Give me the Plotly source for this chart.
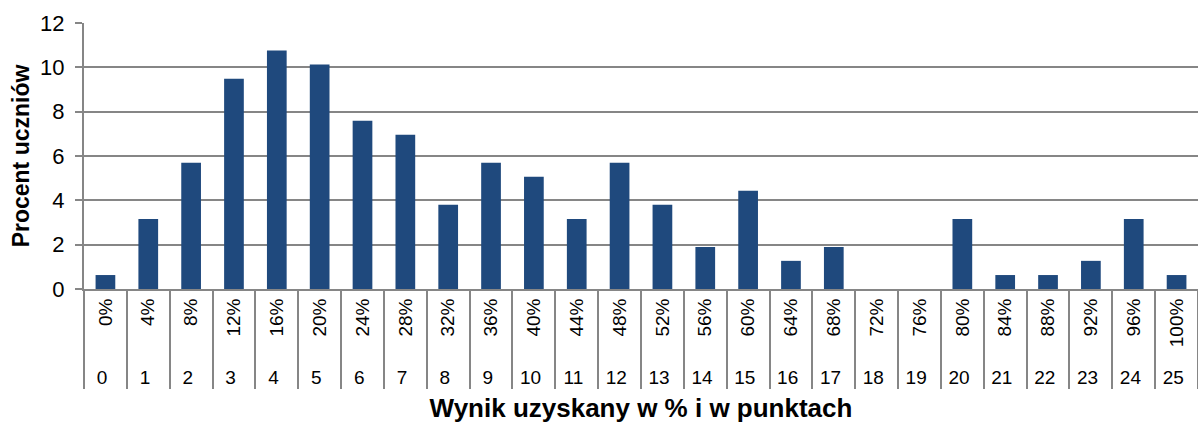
import plotly.graph_objects as go

# Wynik w punktach (0-25) i odpowiadający mu procent
punkty = [str(i) for i in range(26)]
procenty = [f"{4 * i}%" for i in range(26)]
# Procent uczniów z danym wynikiem
procent_uczniow = [0.63, 3.16, 5.70, 9.49, 10.76, 10.13, 7.59, 6.96, 3.80, 5.70,
                   5.06, 3.16, 5.70, 3.80, 1.90, 4.43, 1.27, 1.90, 0.0, 0.0,
                   3.16, 0.63, 0.63, 1.27, 3.16, 0.63]

BAR = "#1F497D"
GRID = "#868686"
FONT = "Liberation Sans, Arial, sans-serif"

fig = go.Figure(
    go.Bar(
        x=[punkty, procenty],
        y=procent_uczniow,
        marker=dict(color=BAR, line=dict(width=0)),
        width=0.46,
    )
)

fig.update_layout(
    width=1198,
    height=423,
    margin=dict(l=84, r=0, t=23, b=134),
    paper_bgcolor="white",
    plot_bgcolor="white",
    showlegend=False,
    font=dict(family=FONT, color="black"),
    xaxis=dict(
        type="multicategory",
        showline=True,
        linecolor=GRID,
        linewidth=2,
        ticks="outside",
        tickson="boundaries",
        tickcolor=GRID,
        tickwidth=2,
        ticklen=6,
        tickangle=-90,
        tickfont=dict(size=19, family=FONT),
        showdividers=True,
        dividercolor=GRID,
        dividerwidth=2,
        showgrid=False,
        title=dict(text="<b>Wynik uzyskany w % i w punktach</b>",
                   font=dict(size=26, family=FONT), standoff=12),
    ),
    yaxis=dict(
        range=[0, 12],
        dtick=2,
        showgrid=True,
        gridcolor=GRID,
        gridwidth=2,
        showline=True,
        linecolor=GRID,
        linewidth=2,
        ticks="outside",
        tickcolor=GRID,
        tickwidth=2,
        ticklen=7,
        ticklabelstandoff=6,
        tickfont=dict(size=22, family=FONT),
        zeroline=False,
        title=dict(text="<b>Procent uczniów</b>",
                   font=dict(size=23, family=FONT), standoff=4),
    ),
)

fig.write_html("out.html")
